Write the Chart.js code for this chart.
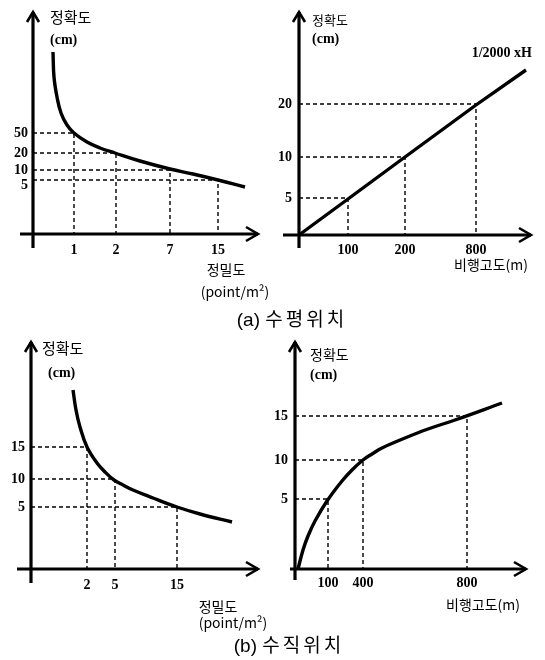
<!DOCTYPE html>
<html>
<head>
<meta charset="utf-8">
<script src="https://cdn.jsdelivr.net/npm/chart.js@4.4.1/dist/chart.umd.min.js"></script>
<style>
  html, body { margin: 0; padding: 0; background: #fff; }
  #page { position: relative; width: 545px; height: 660px; overflow: hidden; }
  canvas { position: absolute; }
  .cap {
    position: absolute; white-space: nowrap; color: #000;
    font: 19px "Liberation Sans", "Noto Sans CJK KR", sans-serif;
    transform: translate(-50%, -50%);
  }
  .cap span { letter-spacing: 3px; }
</style>
</head>
<body>
<div id="page">
  <canvas id="c1"></canvas>
  <canvas id="c2"></canvas>
  <canvas id="c3"></canvas>
  <canvas id="c4"></canvas>
  <div class="cap" style="left:292px;top:317px">(a) <span>수평위치</span></div>
  <div class="cap" style="left:289px;top:643px">(b) <span>수직위치</span></div>
</div>
<script>
  // schematic axes: values are in drawing units along each axis, tick labels placed at them

  // (a) 수평위치 - 점밀도
  const aDensLabels = ["1", "2", "7", "15"];
  const aDensAt = [41, 83, 137, 185];
  const aDensAccLabels = ["50", "20", "10", "5"];
  const aDensAccAt = [101, 81, 64, 54];
  const aDensAccLabelAt = [101, 81, 64, 49];
  const aDensCurveX = [20, 21, 24, 28, 34, 41, 54, 67, 82, 107, 137, 160, 185, 212];
  const aDensCurveY = [182, 157, 137, 121, 109, 101, 92, 86, 81, 73, 65, 60, 54, 47];

  // (a) 수평위치 - 비행고도
  const aAltLabels = ["100", "200", "800"];
  const aAltAt = [49, 106, 177];
  const aAltAccLabels = ["5", "10", "20"];
  const aAltAccAt = [37, 78, 131];
  const aAltLineX = [0, 49, 106, 177, 227];
  const aAltLineY = [0, 36, 78, 130, 165];

  // (b) 수직위치 - 점밀도
  const bDensLabels = ["2", "5", "15"];
  const bDensAt = [56, 84, 146];
  const bDensAccLabels = ["15", "10", "5"];
  const bDensAccAt = [122, 90, 62];
  const bDensCurveX = [42, 45, 49, 56, 66, 74, 83, 92, 102, 122, 146, 169, 201];
  const bDensCurveY = [179, 159, 142, 122, 106, 97, 89, 84, 79, 71, 62, 55, 47];

  // (b) 수직위치 - 비행고도
  const bAltLabels = ["100", "400", "800"];
  const bAltAt = [33, 68, 172];
  const bAltAccLabels = ["5", "10", "15"];
  const bAltAccAt = [70, 109, 153];
  const bAltCurveX = [3, 8, 13, 20, 32, 47, 57, 68, 77, 87, 110, 133, 160, 207];
  const bAltCurveY = [0, 19, 33, 48, 68, 88, 99, 109, 115, 121, 131, 140, 149, 166];

  const tickFont = { family: "'Liberation Serif', serif", size: 14, weight: "bold" };
  const KR = "'Noto Sans CJK KR', sans-serif";
  const SERIF_B = "bold 14px 'Liberation Serif', serif";

  const schematic = {
    id: "schematic",
    afterDraw(chart, args, o) {
      const ctx = chart.ctx;
      const a = chart.chartArea;
      const ox = a.left, oy = a.bottom;
      ctx.save();
      ctx.strokeStyle = "#000";
      ctx.lineWidth = 3.2;
      ctx.beginPath();
      ctx.moveTo(ox, oy + o.down);
      ctx.lineTo(ox, a.top + 2);
      ctx.stroke();
      ctx.lineWidth = 3;
      ctx.beginPath();
      ctx.moveTo(ox - o.left, oy);
      ctx.lineTo(a.right - 2, oy);
      ctx.stroke();
      ctx.lineWidth = 2.6;
      ctx.lineJoin = "miter";
      ctx.beginPath();
      ctx.moveTo(ox - 6, a.top + 12);
      ctx.lineTo(ox, a.top + 2);
      ctx.lineTo(ox + 6, a.top + 12);
      ctx.stroke();
      ctx.beginPath();
      ctx.moveTo(a.right - 14, oy - 7);
      ctx.lineTo(a.right - 2, oy);
      ctx.lineTo(a.right - 14, oy + 7);
      ctx.stroke();
      ctx.fillStyle = "#000";
      ctx.textBaseline = "middle";
      o.texts.forEach(function (t) {
        ctx.font = t.font;
        ctx.textAlign = t.align || "left";
        ctx.fillText(t.s, t.x - o.bx, t.y - o.by);
      });
      ctx.restore();
    }
  };

  function makePanel(id, p) {
    const cv = document.getElementById(id);
    cv.width = p.box.w;
    cv.height = p.box.h;
    cv.style.left = p.box.x + "px";
    cv.style.top = p.box.y + "px";
    const yW = 25, xH = 30;
    const pad = {
      left: p.area.left - p.box.x - yW,
      top: p.area.top - p.box.y,
      right: p.box.x + p.box.w - p.area.right,
      bottom: p.box.y + p.box.h - p.area.bottom - xH
    };
    const datasets = [];
    p.guideX.forEach(function (gx, i) {
      const gy = p.guideY[i];
      datasets.push({
        data: [{ x: 0, y: gy }, { x: gx, y: gy }, { x: gx, y: 0 }],
        borderColor: "#000", borderWidth: 1.4, borderDash: [4, 3],
        pointRadius: 0, tension: 0, clip: false
      });
    });
    datasets.push({
      data: p.curveX.map(function (x, i) { return { x: x, y: p.curveY[i] }; }),
      borderColor: "#000", borderWidth: 3.4, pointRadius: 0, clip: false,
      tension: p.straight ? 0 : 0.4
    });
    return new Chart(cv, {
      type: "line",
      data: { datasets: datasets },
      options: {
        responsive: false,
        animation: false,
        events: [],
        layout: { padding: pad },
        plugins: {
          legend: { display: false },
          tooltip: { enabled: false },
          schematic: { down: p.down, left: p.left, texts: p.texts, bx: p.box.x, by: p.box.y }
        },
        scales: {
          x: {
            type: "linear", min: 0, max: p.xMax,
            grid: { display: false, drawTicks: false }, border: { display: false },
            afterBuildTicks: function (s) { s.ticks = p.xAt.map(function (v) { return { value: v }; }); },
            afterFit: function (s) { s.height = xH; s.paddingLeft = 0; s.paddingRight = 0; },
            ticks: {
              autoSkip: false, maxRotation: 0, minRotation: 0, padding: p.xPad,
              color: "#000", font: tickFont,
              callback: function (v, i) { return p.xLabels[i]; }
            }
          },
          y: {
            type: "linear", min: 0, max: p.yMax,
            grid: { display: false, drawTicks: false }, border: { display: false },
            afterBuildTicks: function (s) {
              s.ticks = (p.yLabelAt || p.yAt).map(function (v) { return { value: v }; });
            },
            afterFit: function (s) { s.width = yW; s.paddingTop = 0; s.paddingBottom = 0; },
            ticks: {
              autoSkip: false, padding: p.yPad,
              color: "#000", font: tickFont,
              callback: function (v, i) { return p.yLabels[i]; }
            }
          }
        }
      },
      plugins: [schematic]
    });
  }

  makePanel("c1", {
    box: { x: 0, y: 0, w: 285, h: 305 },
    area: { left: 33, top: 10, right: 260, bottom: 234 },
    xMax: 227, yMax: 224, down: 14, left: 13, xPad: 7.5, yPad: 5,
    xLabels: aDensLabels, xAt: aDensAt, yLabels: aDensAccLabels, yAt: aDensAccAt,
    yLabelAt: aDensAccLabelAt,
    guideX: aDensAt, guideY: aDensAccAt, curveX: aDensCurveX, curveY: aDensCurveY,
    texts: [
      { s: "정확도", x: 50, y: 17, font: "15px " + KR },
      { s: "(cm)", x: 50, y: 40, font: SERIF_B },
      { s: "정밀도", x: 226, y: 270, align: "center", font: "14px " + KR },
      { s: "(point/m²)", x: 235, y: 292, align: "center", font: "14px " + KR }
    ]
  });

  makePanel("c2", {
    box: { x: 265, y: 0, w: 280, h: 305 },
    area: { left: 299, top: 10, right: 533, bottom: 235 },
    xMax: 234, yMax: 225, down: 13, left: 16, xPad: 6.5, yPad: 7, straight: true,
    xLabels: aAltLabels, xAt: aAltAt, yLabels: aAltAccLabels, yAt: aAltAccAt,
    guideX: aAltAt, guideY: aAltAccAt, curveX: aAltLineX, curveY: aAltLineY,
    texts: [
      { s: "정확도", x: 312, y: 20, font: "13px " + KR },
      { s: "(cm)", x: 312, y: 39, font: SERIF_B },
      { s: "1/2000 xH", x: 532, y: 53, align: "right", font: SERIF_B },
      { s: "비행고도(m)", x: 491, y: 265, align: "center", font: "14px " + KR }
    ]
  });

  makePanel("c3", {
    box: { x: 0, y: 330, w: 285, h: 305 },
    area: { left: 31, top: 340, right: 260, bottom: 569 },
    xMax: 229, yMax: 229, down: 14, left: 14, xPad: 7.5, yPad: 6,
    xLabels: bDensLabels, xAt: bDensAt, yLabels: bDensAccLabels, yAt: bDensAccAt,
    guideX: bDensAt, guideY: bDensAccAt, curveX: bDensCurveX, curveY: bDensCurveY,
    texts: [
      { s: "정확도", x: 42, y: 348, font: "15px " + KR },
      { s: "(cm)", x: 48, y: 373, font: SERIF_B },
      { s: "정밀도", x: 218, y: 607, align: "center", font: "14px " + KR },
      { s: "(point/m²)", x: 233, y: 623, align: "center", font: "14px " + KR }
    ]
  });

  makePanel("c4", {
    box: { x: 265, y: 330, w: 280, h: 305 },
    area: { left: 295, top: 340, right: 528, bottom: 569 },
    xMax: 233, yMax: 229, down: 11, left: 5, xPad: 5.5, yPad: 7,
    xLabels: bAltLabels, xAt: bAltAt, yLabels: bAltAccLabels, yAt: bAltAccAt,
    guideX: bAltAt, guideY: bAltAccAt, curveX: bAltCurveX, curveY: bAltCurveY,
    texts: [
      { s: "정확도", x: 310, y: 355, font: "14px " + KR },
      { s: "(cm)", x: 310, y: 375, font: SERIF_B },
      { s: "비행고도(m)", x: 483, y: 605, align: "center", font: "14px " + KR }
    ]
  });
</script>
</body>
</html>
